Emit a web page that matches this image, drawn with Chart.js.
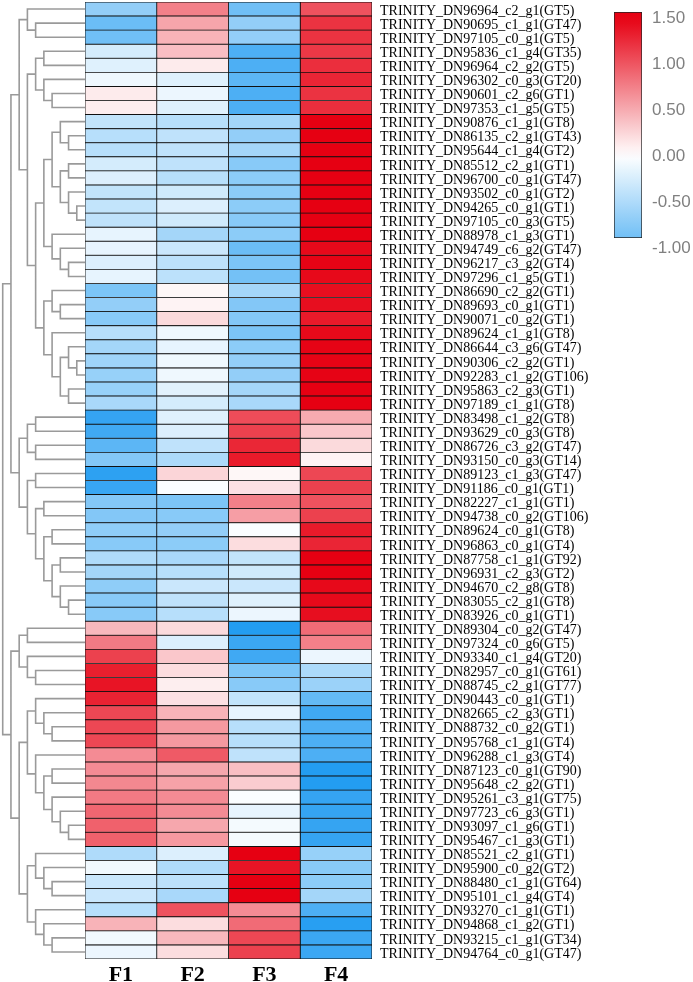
<!DOCTYPE html>
<html lang="en">
<head>
<meta charset="UTF-8">
<title>GT heatmap</title>
<style>
  body { margin: 0; background: #fff; }
  .wrap { position: relative; width: 693px; height: 982px; }
  canvas { position: absolute; top: 0; }
  #dendro { left: 0; }
  #heat { left: 84px; }
  #scale { left: 600px; }
</style>
</head>
<body>
<div class="wrap">
  <canvas id="dendro" width="86" height="961"></canvas>
  <canvas id="heat" width="609" height="982"></canvas>
  <canvas id="scale" width="93" height="262"></canvas>
</div>

<script src="https://cdn.jsdelivr.net/npm/chart.js"></script>
<script>
// row names, top to bottom
const rowLabels = [
  'TRINITY_DN96964_c2_g1(GT5)', 'TRINITY_DN90695_c1_g1(GT47)', 'TRINITY_DN97105_c0_g1(GT5)',
  'TRINITY_DN95836_c1_g4(GT35)', 'TRINITY_DN96964_c2_g2(GT5)', 'TRINITY_DN96302_c0_g3(GT20)',
  'TRINITY_DN90601_c2_g6(GT1)', 'TRINITY_DN97353_c1_g5(GT5)', 'TRINITY_DN90876_c1_g1(GT8)',
  'TRINITY_DN86135_c2_g1(GT43)', 'TRINITY_DN95644_c1_g4(GT2)', 'TRINITY_DN85512_c2_g1(GT1)',
  'TRINITY_DN96700_c0_g1(GT47)', 'TRINITY_DN93502_c0_g1(GT2)', 'TRINITY_DN94265_c0_g1(GT1)',
  'TRINITY_DN97105_c0_g3(GT5)', 'TRINITY_DN88978_c1_g3(GT1)', 'TRINITY_DN94749_c6_g2(GT47)',
  'TRINITY_DN96217_c3_g2(GT4)', 'TRINITY_DN97296_c1_g5(GT1)', 'TRINITY_DN86690_c2_g2(GT1)',
  'TRINITY_DN89693_c0_g1(GT1)', 'TRINITY_DN90071_c0_g2(GT1)', 'TRINITY_DN89624_c1_g1(GT8)',
  'TRINITY_DN86644_c3_g6(GT47)', 'TRINITY_DN90306_c2_g2(GT1)', 'TRINITY_DN92283_c1_g2(GT106)',
  'TRINITY_DN95863_c2_g3(GT1)', 'TRINITY_DN97189_c1_g1(GT8)', 'TRINITY_DN83498_c1_g2(GT8)',
  'TRINITY_DN93629_c0_g3(GT8)', 'TRINITY_DN86726_c3_g2(GT47)', 'TRINITY_DN93150_c0_g3(GT14)',
  'TRINITY_DN89123_c1_g3(GT47)', 'TRINITY_DN91186_c0_g1(GT1)', 'TRINITY_DN82227_c1_g1(GT1)',
  'TRINITY_DN94738_c0_g2(GT106)', 'TRINITY_DN89624_c0_g1(GT8)', 'TRINITY_DN96863_c0_g1(GT4)',
  'TRINITY_DN87758_c1_g1(GT92)', 'TRINITY_DN96931_c2_g3(GT2)', 'TRINITY_DN94670_c2_g8(GT8)',
  'TRINITY_DN83055_c2_g1(GT8)', 'TRINITY_DN83926_c0_g1(GT1)', 'TRINITY_DN89304_c0_g2(GT47)',
  'TRINITY_DN97324_c0_g6(GT5)', 'TRINITY_DN93340_c1_g4(GT20)', 'TRINITY_DN82957_c0_g1(GT61)',
  'TRINITY_DN88745_c2_g1(GT77)', 'TRINITY_DN90443_c0_g1(GT1)', 'TRINITY_DN82665_c2_g3(GT1)',
  'TRINITY_DN88732_c0_g2(GT1)', 'TRINITY_DN95768_c1_g1(GT4)', 'TRINITY_DN96288_c1_g3(GT4)',
  'TRINITY_DN87123_c0_g1(GT90)', 'TRINITY_DN95648_c2_g2(GT1)', 'TRINITY_DN95261_c3_g1(GT75)',
  'TRINITY_DN97723_c6_g3(GT1)', 'TRINITY_DN93097_c1_g6(GT1)', 'TRINITY_DN95467_c1_g3(GT1)',
  'TRINITY_DN85521_c2_g1(GT1)', 'TRINITY_DN95900_c0_g2(GT2)', 'TRINITY_DN88480_c1_g1(GT64)',
  'TRINITY_DN95101_c1_g4(GT4)', 'TRINITY_DN93270_c1_g1(GT1)', 'TRINITY_DN94868_c1_g2(GT1)',
  'TRINITY_DN93215_c1_g1(GT34)', 'TRINITY_DN94764_c0_g1(GT47)'
];

const columns = ['F1', 'F2', 'F3', 'F4'];

// scaled expression per sample, same row order as rowLabels
const f1 = [
  -0.68, -0.93, -0.90, -0.27, -0.20, -0.10, 0.12, 0.10, -0.38, -0.45,
  -0.45, -0.27, -0.22, -0.38, -0.38, -0.40, -0.15, -0.15, -0.22, -0.15,
  -0.82, -0.68, -0.75, -0.45, -0.57, -0.60, -0.65, -0.65, -0.54, -1.27,
  -1.20, -1.02, -0.78, -1.32, -1.25, -0.78, -0.78, -0.70, -0.75, -0.50,
  -0.57, -0.70, -0.75, -0.75, 0.42, 0.78, 1.12, 1.32, 1.38, 1.30,
  1.08, 1.08, 1.08, 0.68, 0.68, 0.70, 0.78, 0.90, 0.93, 0.93,
  -0.50, -0.09, -0.33, -0.33, -0.45, 0.45, -0.09, -0.12
];
const f2 = [
  0.75, 0.53, 0.45, 0.38, 0.12, -0.20, -0.12, -0.20, -0.45, -0.40,
  -0.40, -0.40, -0.45, -0.30, -0.22, -0.30, -0.57, -0.33, -0.42, -0.42,
  0.05, 0.07, 0.22, -0.10, -0.15, -0.10, -0.10, -0.18, -0.27, -0.20,
  -0.22, -0.40, -0.52, 0.25, -0.03, -0.82, -0.75, -0.68, -0.72, -0.54,
  -0.45, -0.33, -0.40, -0.45, 0.22, -0.22, 0.33, 0.20, 0.10, 0.18,
  0.45, 0.60, 0.60, 0.97, 0.52, 0.55, 0.68, 0.68, 0.52, 0.60,
  -0.22, -0.50, -0.42, -0.54, 1.02, 0.20, 0.42, 0.20
];
const f3 = [
  -0.90, -0.68, -0.68, -1.12, -1.12, -1.02, -1.12, -1.12, -0.57, -0.68,
  -0.57, -0.75, -0.72, -0.72, -0.72, -0.75, -0.72, -0.93, -0.82, -0.87,
  -0.57, -0.78, -0.78, -0.82, -0.72, -0.68, -0.68, -0.57, -0.54, 1.05,
  1.12, 1.27, 1.35, 0.05, 0.18, 0.75, 0.57, -0.03, 0.20, -0.38,
  -0.30, -0.33, -0.20, -0.12, -1.38, -1.23, -1.20, -0.82, -0.75, -0.38,
  -0.15, -0.45, -0.45, -0.40, 0.38, 0.30, -0.03, -0.15, -0.07, -0.07,
  1.50, 1.38, 1.50, 1.50, 0.68, 0.87, 1.08, 1.12
];
const f4 = [
  1.02, 1.20, 1.20, 1.17, 1.23, 1.28, 1.20, 1.23, 1.50, 1.50,
  1.50, 1.50, 1.50, 1.50, 1.50, 1.50, 1.50, 1.45, 1.48, 1.45,
  1.42, 1.42, 1.35, 1.45, 1.48, 1.48, 1.48, 1.50, 1.50, 0.50,
  0.33, 0.22, 0.07, 1.08, 1.12, 1.02, 1.12, 1.35, 1.28, 1.50,
  1.50, 1.45, 1.45, 1.42, 0.87, 0.75, -0.12, -0.52, -0.63, -0.97,
  -1.20, -1.12, -1.12, -1.12, -1.38, -1.38, -1.27, -1.27, -1.27, -1.27,
  -0.65, -0.75, -0.72, -0.57, -1.12, -1.35, -1.23, -1.23
];

// colour key
const legendTicks = [1.5, 1, 0.5, 0, -0.5, -1];
const legendMin = -0.898;
const legendMax = 1.561;

// row clustering (leaf = row index), drawn with depth from root
const tree = [
  [
    [
      [0, [1, 2]],
      [
        [[3, 4], [5, [6, 7]]],
        [
          [
            [[8, [9, 10]], [[11, 12], [13, [14, 15]]]],
            [16, [17, [18, 19]]]
          ],
          [
            [20, [21, 22]],
            [23, [[24, [25, 26]], [27, 28]]]
          ]
        ]
      ]
    ],
    [
      [[29, 30], [31, 32]],
      [[33, 34], [[35, 36], [[37, 38], [[39, 40], [41, [42, 43]]]]]]
    ]
  ],
  [
    [[44, 45], [46, [47, 48]]],
    [
      [[49, [50, [51, 52]]], [53, [[54, 55], [56, [57, [58, 59]]]]]],
      [[60, [61, [62, 63]]], [64, [65, [66, 67]]]]
    ]
  ]
];

Chart.defaults.font.family = 'Liberation Serif';

const RED = [230, 0, 18];
const BLUE = [16, 148, 240];
function colorFor(v) {
  const t = Math.min(Math.abs(v) / 1.5, 1);
  const end = v >= 0 ? RED : BLUE;
  const c = end.map(e => Math.round(255 + (e - 255) * t));
  return 'rgb(' + c.join(',') + ')';
}

// dendrogram segments
const LEAF_DEPTH = 10;
const dendroPoints = [];
function layout(node, depth) {
  if (typeof node === 'number') return { x: LEAF_DEPTH, y: node };
  const a = layout(node[0], depth + 1);
  const b = layout(node[1], depth + 1);
  dendroPoints.push(
    { x: a.x, y: a.y }, { x: depth, y: a.y },
    { x: depth, y: b.y }, { x: b.x, y: b.y },
    { x: null, y: null }
  );
  return { x: depth, y: (a.y + b.y) / 2 };
}
layout(tree, 0);

const noPlugins = { legend: { display: false }, tooltip: { enabled: false } };

// drop the automatic half-label padding so the plot area is where we put it
function noEdgePadding(s) {
  s.paddingTop = 0;
  s.paddingBottom = 0;
  s.paddingLeft = 0;
  s.paddingRight = 0;
}

new Chart(document.getElementById('dendro'), {
  type: 'scatter',
  data: {
    datasets: [{
      data: dendroPoints,
      showLine: true,
      spanGaps: false,
      borderColor: '#9a9a9a',
      borderWidth: 1.6,
      pointRadius: 0
    }]
  },
  options: {
    responsive: false,
    animation: false,
    events: [],
    layout: { padding: { top: 2, bottom: 2, left: 0, right: 0 } },
    plugins: noPlugins,
    scales: {
      x: { type: 'linear', min: -0.33, max: 10.12, display: false },
      y: { type: 'linear', min: -0.5, max: 67.5, reverse: true, display: false }
    }
  }
});

// heatmap cells as floating bars, one dataset per sample
const values = [f1, f2, f3, f4];
const heatDatasets = columns.map((name, c) => ({
  label: name,
  xAxisID: 'x',
  yAxisID: 'y',
  data: values[c].map((v, i) => ({ x: [c, c + 1], y: i })),
  backgroundColor: values[c].map(colorFor),
  borderColor: '#111',
  borderWidth: 0.8,
  borderSkipped: false,
  grouped: false,
  barPercentage: 1,
  categoryPercentage: 1
}));

new Chart(document.getElementById('heat'), {
  type: 'bar',
  data: { datasets: heatDatasets },
  options: {
    indexAxis: 'y',
    responsive: false,
    animation: false,
    events: [],
    layout: { padding: { left: 1, top: 2, right: 0, bottom: 0 } },
    plugins: noPlugins,
    scales: {
      x: { type: 'linear', min: 0, max: 4, display: false },
      cols: {
        type: 'category',
        axis: 'x',
        position: 'bottom',
        labels: columns,
        offset: true,
        grid: { display: false, drawTicks: false, tickLength: 0 },
        border: { display: false },
        ticks: {
          color: '#000',
          padding: 3,
          font: { family: 'Liberation Serif', size: 22, weight: 'bold' }
        },
        afterFit: s => { noEdgePadding(s); s.height = 23; }
      },
      y: {
        type: 'linear',
        position: 'right',
        min: -0.5,
        max: 67.5,
        reverse: true,
        offset: false,
        bounds: 'data',
        grid: { display: false, drawTicks: false, tickLength: 0 },
        border: { display: false },
        afterBuildTicks: s => { s.ticks = rowLabels.map((_, i) => ({ value: i })); },
        ticks: {
          autoSkip: false,
          padding: 8,
          labelOffset: 2,
          color: '#000',
          font: { family: 'Liberation Serif', size: 14 },
          callback: v => rowLabels[v]
        },
        afterFit: s => { noEdgePadding(s); s.width = 321; }
      }
    }
  }
});

// colour key
new Chart(document.getElementById('scale'), {
  type: 'bar',
  data: {
    labels: [''],
    datasets: [{
      data: [[legendMin, legendMax]],
      backgroundColor: ctx => {
        const area = ctx.chart.chartArea;
        if (!area) return null;
        const g = ctx.chart.ctx.createLinearGradient(0, area.top, 0, area.bottom);
        for (let k = 0; k <= 20; k++) {
          g.addColorStop(k / 20, colorFor(legendMax + (legendMin - legendMax) * k / 20));
        }
        return g;
      },
      borderColor: '#222',
      borderWidth: 1,
      borderSkipped: false,
      barPercentage: 1,
      categoryPercentage: 1
    }]
  },
  options: {
    responsive: false,
    animation: false,
    events: [],
    layout: { padding: { left: 14, top: 12, right: 0, bottom: 24 } },
    plugins: noPlugins,
    scales: {
      x: { display: false },
      y: {
        position: 'right',
        min: legendMin,
        max: legendMax,
        bounds: 'data',
        grid: { display: false, drawTicks: false, tickLength: 0 },
        border: { display: false },
        afterBuildTicks: s => { s.ticks = legendTicks.map(v => ({ value: v })); },
        ticks: {
          autoSkip: false,
          padding: 10,
          labelOffset: 1,
          color: '#808080',
          font: { family: 'Liberation Sans', size: 17 },
          callback: v => v.toFixed(2)
        },
        afterFit: s => { noEdgePadding(s); s.width = 51; }
      }
    }
  }
});
</script>
</body>
</html>
